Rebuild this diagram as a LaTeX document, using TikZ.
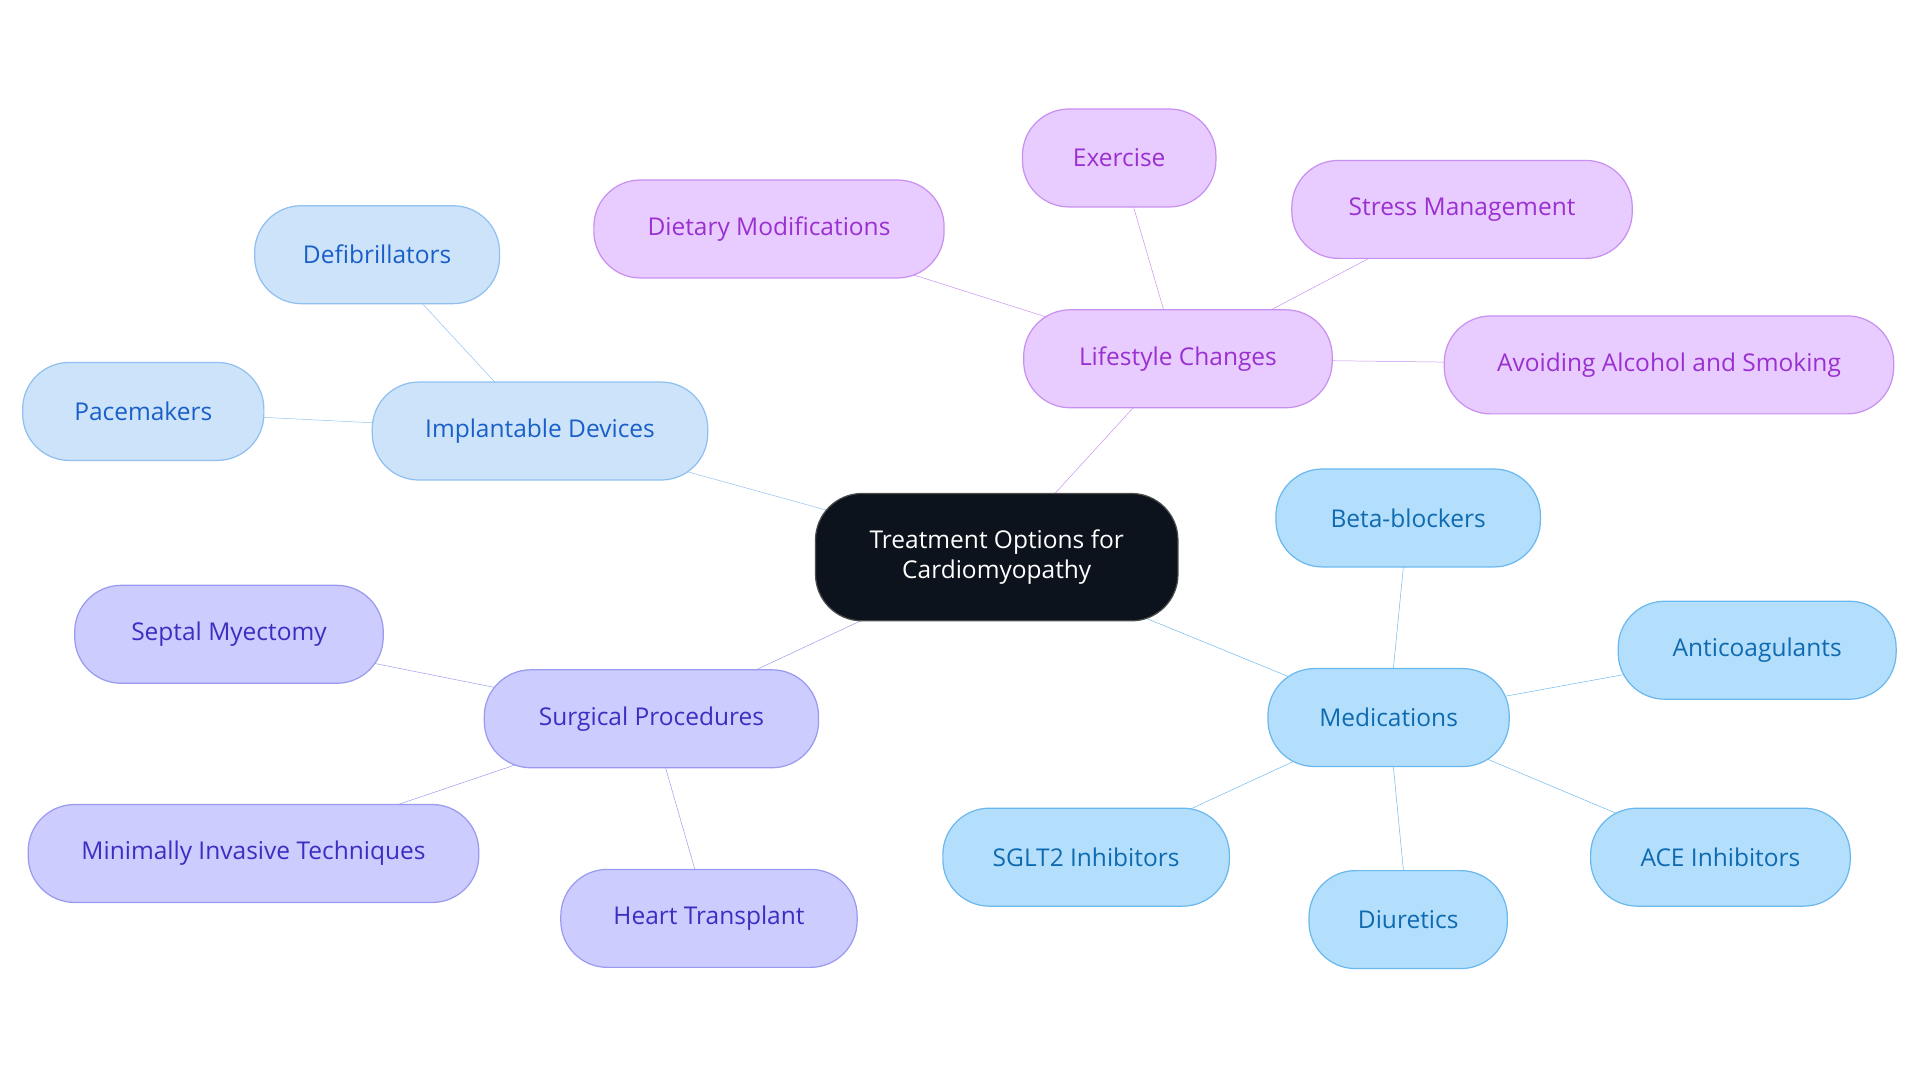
\documentclass[tikz,border=0pt]{standalone}
\usepackage{fontspec}
\setmainfont{Open Sans}
\usetikzlibrary{backgrounds}
\definecolor{cF}{HTML}{0D131C}
\definecolor{mF}{HTML}{B3DFFC}\definecolor{mS}{HTML}{6BB8EE}\definecolor{mT}{HTML}{0F6AB0}
\definecolor{iF}{HTML}{CCE3FA}\definecolor{iS}{HTML}{90C0F0}\definecolor{iT}{HTML}{1A5FC8}
\definecolor{sF}{HTML}{CCCCFF}\definecolor{sS}{HTML}{9A9AF0}\definecolor{sT}{HTML}{3A2FC0}
\definecolor{lF}{HTML}{E8CCFF}\definecolor{lS}{HTML}{C890F0}\definecolor{lT}{HTML}{9A30D0}
\begin{document}
\begin{tikzpicture}[x=1pt,y=-1pt,
 box/.style={rounded corners=38pt,minimum height=80pt,line width=1pt,font=\fontsize{20}{24}\selectfont,inner sep=0pt},
 m/.style={box,fill=mF,draw=mS,text=mT},
 i/.style={box,fill=iF,draw=iS,text=iT},
 s/.style={box,fill=sF,draw=sS,text=sT},
 l/.style={box,fill=lF,draw=lS,text=lT},
 e/.style={line width=3pt}]
\useasboundingbox (0,0) rectangle (1568,884);
\node[box,fill=cF,draw=black!70,text=white,minimum width=296pt,minimum height=104pt,align=center] (c) at (814,455) {Treatment Options for\\Cardiomyopathy};
\node[i,minimum width=274pt] (imp) at (441,352) {Implantable Devices};
\node[i,minimum width=200pt] (def) at (308,208) {Defibrillators};
\node[i,minimum width=197pt] (pac) at (117,336) {Pacemakers};
\node[s,minimum width=273pt] (sur) at (532,587) {Surgical Procedures};
\node[s,minimum width=252pt] (sep) at (187,518) {Septal Myectomy};
\node[s,minimum width=368pt] (min) at (207,697) {Minimally Invasive Techniques};
\node[s,minimum width=242pt] (hea) at (579,750) {Heart Transplant};
\node[l,minimum width=252pt] (lif) at (962,293) {Lifestyle Changes};
\node[l,minimum width=286pt] (die) at (628,187) {Dietary Modifications};
\node[l,minimum width=158pt] (exe) at (914,129) {Exercise};
\node[l,minimum width=278pt] (str) at (1194,171) {Stress Management};
\node[l,minimum width=367pt] (avo) at (1363,298) {Avoiding Alcohol and Smoking};
\node[m,minimum width=197pt] (med) at (1134,586) {Medications};
\node[m,minimum width=216pt] (bet) at (1150,423) {Beta-blockers};
\node[m,minimum width=227pt] (ant) at (1435,531) {Anticoagulants};
\node[m,minimum width=212pt] (ace) at (1405,700) {ACE Inhibitors};
\node[m,minimum width=162pt] (diu) at (1150,751) {Diuretics};
\node[m,minimum width=234pt] (sgl) at (887,700) {SGLT2 Inhibitors};
\begin{scope}[on background layer,e]
\draw[iS] (c.center) -- (imp.center) (imp.center) -- (def.center) (imp.center) -- (pac.center);
\draw[sS] (c.center) -- (sur.center) (sur.center) -- (sep.center) (sur.center) -- (min.center) (sur.center) -- (hea.center);
\draw[lS] (c.center) -- (lif.center) (lif.center) -- (die.center) (lif.center) -- (exe.center) (lif.center) -- (str.center) (lif.center) -- (avo.center);
\draw[mS] (c.center) -- (med.center) (med.center) -- (bet.center) (med.center) -- (ant.center) (med.center) -- (ace.center) (med.center) -- (diu.center) (med.center) -- (sgl.center);
\end{scope}
\end{tikzpicture}
\end{document}
